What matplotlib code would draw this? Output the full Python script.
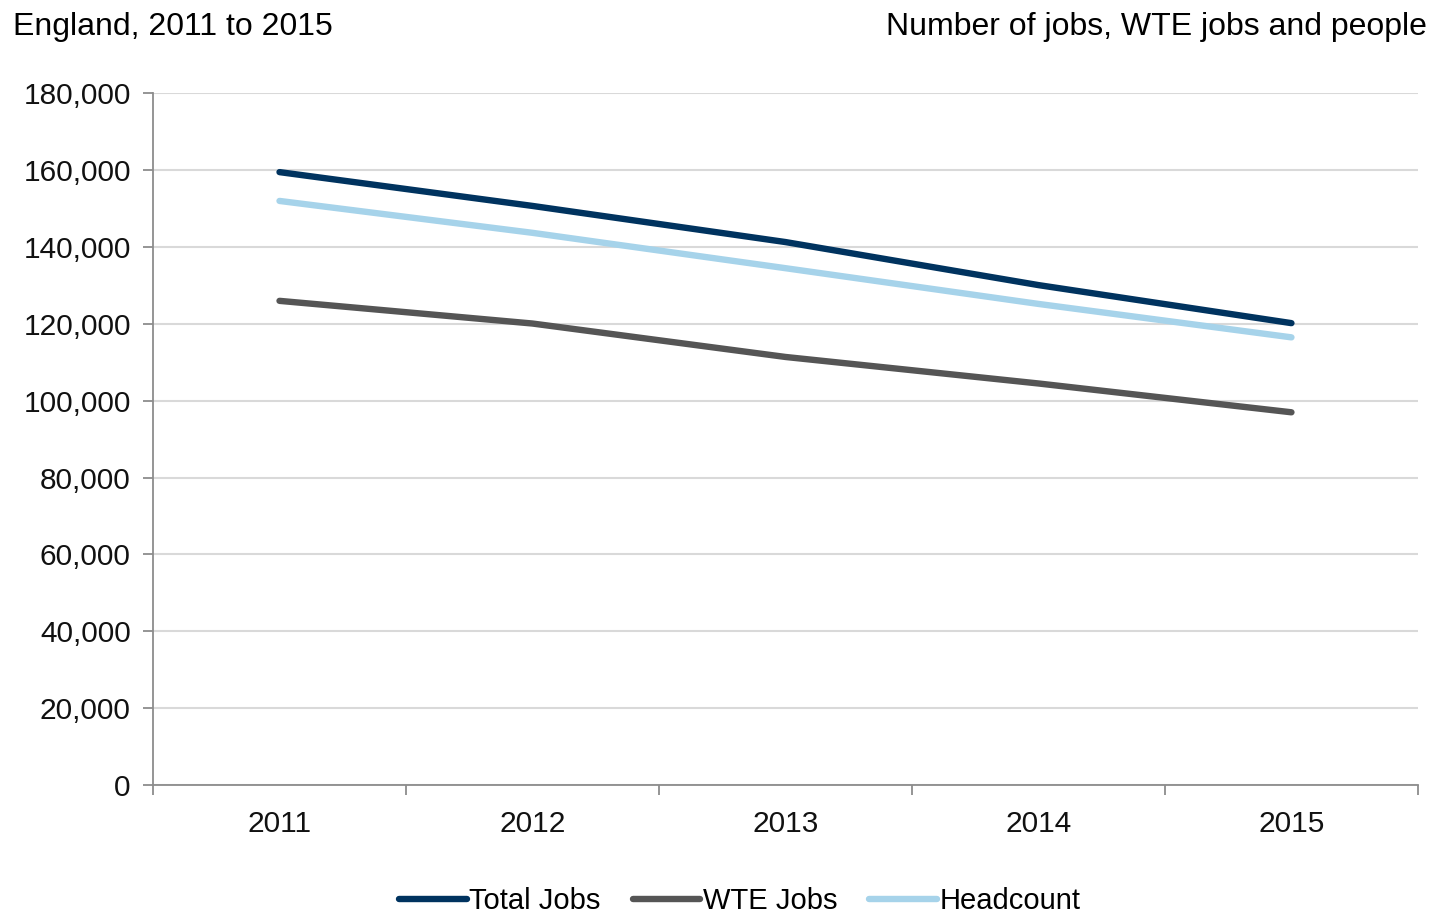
import matplotlib.pyplot as plt
from matplotlib.ticker import FuncFormatter, FixedLocator

plt.rcParams['font.family'] = ['Liberation Sans', 'DejaVu Sans']

years = ['2011', '2012', '2013', '2014', '2015']
total_jobs = [159500, 150700, 141300, 130100, 120200]
wte_jobs = [126000, 120100, 111400, 104500, 97000]
headcount = [152000, 143700, 134500, 125200, 116500]

fig = plt.figure(figsize=(14.34, 9.15), dpi=100)
ax = fig.add_axes([0.1067, 0.142, 0.8821, 0.756])

x = list(range(len(years)))
ax.plot(x, total_jobs, color='#00335f', lw=4.6, solid_capstyle='round', label='Total Jobs')
ax.plot(x, wte_jobs, color='#555555', lw=4.6, solid_capstyle='round', label='WTE Jobs')
ax.plot(x, headcount, color='#a6d3ea', lw=4.6, solid_capstyle='round', label='Headcount')

ax.set_xlim(-0.5, len(years) - 0.5)
ax.set_ylim(0, 180000)
ax.set_yticks(range(0, 180001, 20000))
ax.yaxis.set_major_formatter(FuncFormatter(lambda v, p: f'{int(v):,}'))
ax.set_xticks(x)
ax.set_xticklabels(years)
ax.xaxis.set_minor_locator(FixedLocator([i - 0.5 for i in range(len(years) + 1)]))

ax.grid(axis='y', color='#d9d9d9', lw=1.5)
ax.set_axisbelow(True)
for s in ['top', 'right']:
    ax.spines[s].set_visible(False)
for s in ['left', 'bottom']:
    ax.spines[s].set_color('#8c8c8c')
    ax.spines[s].set_linewidth(1.3)
ax.tick_params(axis='y', length=7, width=1.3, color='#8c8c8c', labelsize=21.5, pad=9,
               labelcolor='#111111')
ax.tick_params(axis='x', which='major', length=0, labelsize=21.5, pad=18, labelcolor='#111111')
ax.tick_params(axis='x', which='minor', length=7, width=1.3, color='#8c8c8c')

fig.text(0.009, 0.97, 'England, 2011 to 2015', fontsize=23, va='center', ha='left')
fig.text(0.995, 0.97, 'Number of jobs, WTE jobs and people', fontsize=23, va='center', ha='right')

fig.legend(loc='center', bbox_to_anchor=(0.516, 0.015), ncol=3, frameon=False,
           fontsize=21, handlelength=2.3, handletextpad=0.1, columnspacing=1.1)

fig.savefig('out.png', dpi=100)
